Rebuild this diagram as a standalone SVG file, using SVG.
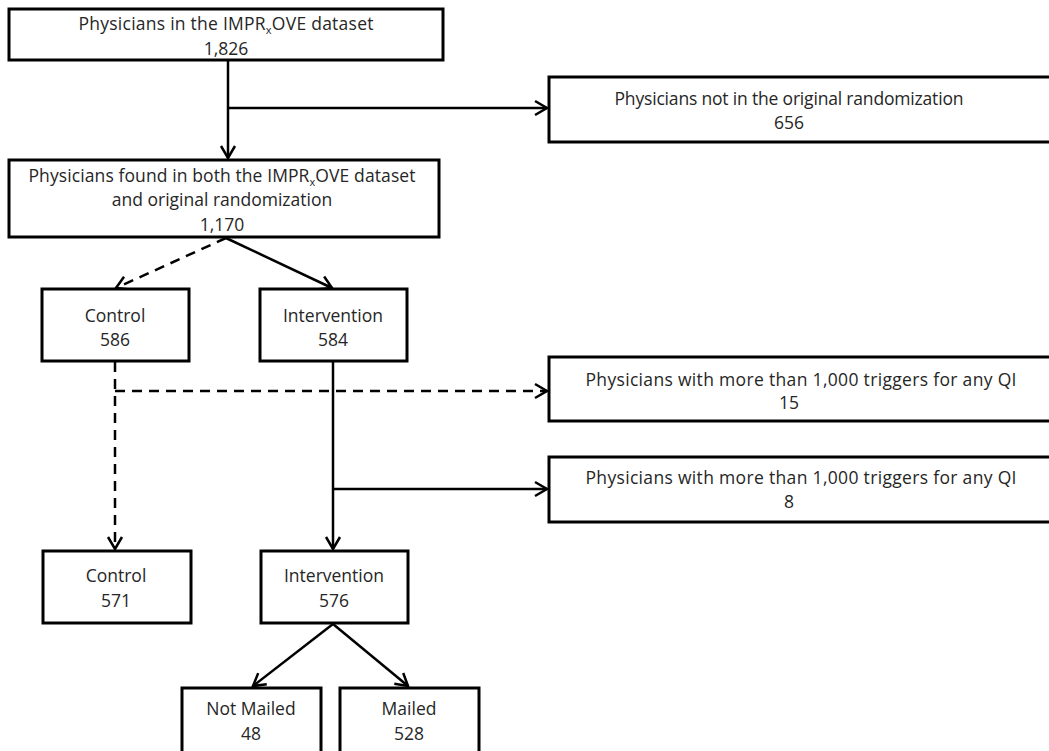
<svg xmlns="http://www.w3.org/2000/svg" width="1049" height="751" viewBox="0 0 1049 751">
<style>
.box{fill:#fff;stroke:#000;stroke-width:3}
.t{font-family:"Open Sans","Noto Sans",sans-serif;font-size:17.5px;fill:#262626;text-anchor:middle}
.sub{font-size:11px}
.c{fill:none;stroke:#000;stroke-width:2.5}
.d{stroke-dasharray:10 7}
</style>
<defs>
<marker id="ah" markerUnits="userSpaceOnUse" markerWidth="16" markerHeight="18" refX="13" refY="8" orient="auto" overflow="visible">
<path d="M1,1 L13,8 L1,15" fill="none" stroke="#000" stroke-width="2.5"/>
</marker>
</defs>
<rect width="1049" height="751" fill="#fff"/>
<g id="connectors">
<line class="c" x1="228" y1="60" x2="228" y2="158" marker-end="url(#ah)"/>
<line class="c" x1="228" y1="108" x2="547" y2="108" marker-end="url(#ah)"/>
<line class="c d" x1="226" y1="238" x2="116" y2="288" marker-end="url(#ah)"/>
<line class="c" x1="226" y1="238" x2="332" y2="288" marker-end="url(#ah)"/>
<line class="c d" x1="115" y1="362" x2="115" y2="549" marker-end="url(#ah)"/>
<line class="c d" x1="115" y1="391" x2="547" y2="391" marker-end="url(#ah)"/>
<line class="c" x1="333" y1="362" x2="333" y2="549" marker-end="url(#ah)"/>
<line class="c" x1="333" y1="489" x2="547" y2="489" marker-end="url(#ah)"/>
<line class="c" x1="333" y1="624" x2="253" y2="686" marker-end="url(#ah)"/>
<line class="c" x1="333" y1="624" x2="408" y2="686" marker-end="url(#ah)"/>
</g>
<g id="n-all">
<rect class="box" x="9" y="9" width="434" height="51"/>
<text class="t" x="226" y="30" textLength="295" lengthAdjust="spacing">Physicians in the IMPR<tspan class="sub" dy="4">x</tspan><tspan dy="-4">OVE dataset</tspan></text>
<text class="t" x="226" y="55">1,826</text>
</g>
<g id="n-notrand">
<rect class="box" x="549" y="77" width="520" height="65"/>
<text class="t" x="789" y="105" textLength="349" lengthAdjust="spacing">Physicians not in the original randomization</text>
<text class="t" x="789" y="129">656</text>
</g>
<g id="n-both">
<rect class="box" x="9" y="160" width="430" height="77"/>
<text class="t" x="222" y="182" textLength="387" lengthAdjust="spacing">Physicians found in both the IMPR<tspan class="sub" dy="4">x</tspan><tspan dy="-4">OVE dataset</tspan></text>
<text class="t" x="222" y="206">and original randomization</text>
<text class="t" x="222" y="231">1,170</text>
</g>
<g id="n-control1">
<rect class="box" x="42" y="289" width="147" height="72"/>
<text class="t" x="115" y="322">Control</text>
<text class="t" x="115" y="346">586</text>
</g>
<g id="n-interv1">
<rect class="box" x="260" y="289" width="147" height="72"/>
<text class="t" x="333" y="322">Intervention</text>
<text class="t" x="333" y="346">584</text>
</g>
<g id="n-excl15">
<rect class="box" x="549" y="357" width="520" height="64"/>
<text class="t" x="801" y="386" textLength="431" lengthAdjust="spacing">Physicians with more than 1,000 triggers for any QI</text>
<text class="t" x="789" y="409">15</text>
</g>
<g id="n-excl8">
<rect class="box" x="549" y="457" width="520" height="65"/>
<text class="t" x="801" y="484" textLength="431" lengthAdjust="spacing">Physicians with more than 1,000 triggers for any QI</text>
<text class="t" x="789" y="508">8</text>
</g>
<g id="n-control2">
<rect class="box" x="43" y="551" width="148" height="72"/>
<text class="t" x="116" y="582">Control</text>
<text class="t" x="116" y="607">571</text>
</g>
<g id="n-interv2">
<rect class="box" x="261" y="551" width="147" height="72"/>
<text class="t" x="334" y="582">Intervention</text>
<text class="t" x="334" y="607">576</text>
</g>
<g id="n-notmailed">
<rect class="box" x="182" y="688" width="139" height="80"/>
<text class="t" x="251" y="715">Not Mailed</text>
<text class="t" x="251" y="740">48</text>
</g>
<g id="n-mailed">
<rect class="box" x="340" y="688" width="139" height="80"/>
<text class="t" x="409" y="715">Mailed</text>
<text class="t" x="409" y="740">528</text>
</g>
</svg>
